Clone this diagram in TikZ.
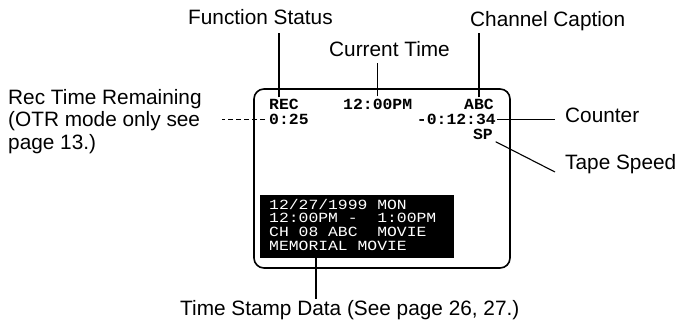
\documentclass[tikz,border=0pt]{standalone}
\usepackage{fontspec}
\setmainfont{Liberation Sans}
\newfontfamily\osdfont[FakeStretch=1.06]{Liberation Mono}
\newfontfamily\stampfont[FakeStretch=1.17]{Liberation Mono}
\newcommand\ospace{\hspace*{9.83pt}}
\usetikzlibrary{calc}

\begin{document}
\begin{tikzpicture}[x=1pt, y=-1pt,
    lbl/.style={inner sep=0pt, font=\fontsize{20.8}{22.5}\selectfont},
    osd/.style={inner sep=0pt, font=\osdfont\bfseries\fontsize{15.5}{18}\selectfont},
    leader/.style={line width=1.1pt}]
    \useasboundingbox (0,0) rectangle (683,331);

    % screen
    \draw[line width=1.6pt, rounded corners=10pt] (254,89) rectangle (510,268);

    \node[osd, anchor=base west] (rec)   at (269,110) {REC};
    \node[osd, anchor=base west] (clock) at (343,110) {12:00PM};
    \node[osd, anchor=base east] (chan)  at (494,110) {ABC};
    \node[osd, anchor=base west] (otr)   at (269,124.5) {0:25};
    \node[osd, anchor=base east] (count) at (496,124.5) {-0:12:34};
    \node[osd, anchor=base east] (speed) at (493,140) {SP};

    \node[fill=black, text=white, anchor=north west, align=left,
          inner xsep=9pt, inner ysep=0pt, text width=176pt, minimum width=194pt, minimum height=63pt,
          font=\stampfont\fontsize{14}{13.7}\selectfont] (stamp) at (260,195)
        {12/27/1999\ospace MON\\12:00PM\ospace-\ospace\ospace1:00PM\\CH\ospace08\ospace ABC\ospace\ospace MOVIE\\MEMORIAL\ospace MOVIE\rule[-4pt]{0pt}{4pt}};

    % labels
    \node[lbl, anchor=base west] (fstatus) at (188,25) {Function Status};
    \node[lbl, anchor=base west] (ctime)   at (329,57) {Current Time};
    \node[lbl, anchor=base west] (chcap)   at (470,27) {Channel Caption};
    \node[lbl, anchor=north west, align=left] (rectime) at (8,89)
        {Rec Time Remaining\\(OTR mode only see\\page 13.)};
    \node[lbl, anchor=base west] (counter) at (565,123) {Counter};
    \node[lbl, anchor=base west] (tapespd) at (565,170) {Tape Speed};
    \node[lbl, anchor=base west] (tsd)     at (180,316) {Time Stamp Data (See page 26, 27.)};

    \draw[leader, shorten <=2pt, shorten >=8pt] ([xshift=10pt]rec.north west)
        -- ([xshift=10pt]rec.north west |- fstatus.south);
    \draw[leader, shorten <=3pt, shorten >=6pt] (clock.north) -- (clock.north |- ctime.south);
    \draw[leader, shorten <=2pt, shorten >=1pt] (chan.north) -- (chan.north |- chcap.south);
    \draw[leader, shorten <=1pt, shorten >=10pt] (count.east) -- (count.east -| counter.west);
    \draw[leader, shorten <=3pt] (speed.south east) -- ([xshift=-10pt, yshift=-2pt]tapespd.base west);
    \draw[leader, dash pattern=on 5pt off 3pt, shorten <=4pt, shorten >=20pt] (otr.west) -- (otr.west -| rectime.east);
    \draw[leader, shorten >=2pt] ([xshift=56pt]stamp.south west)
        -- ([xshift=56pt]stamp.south west |- tsd.north);
\end{tikzpicture}
\end{document}
